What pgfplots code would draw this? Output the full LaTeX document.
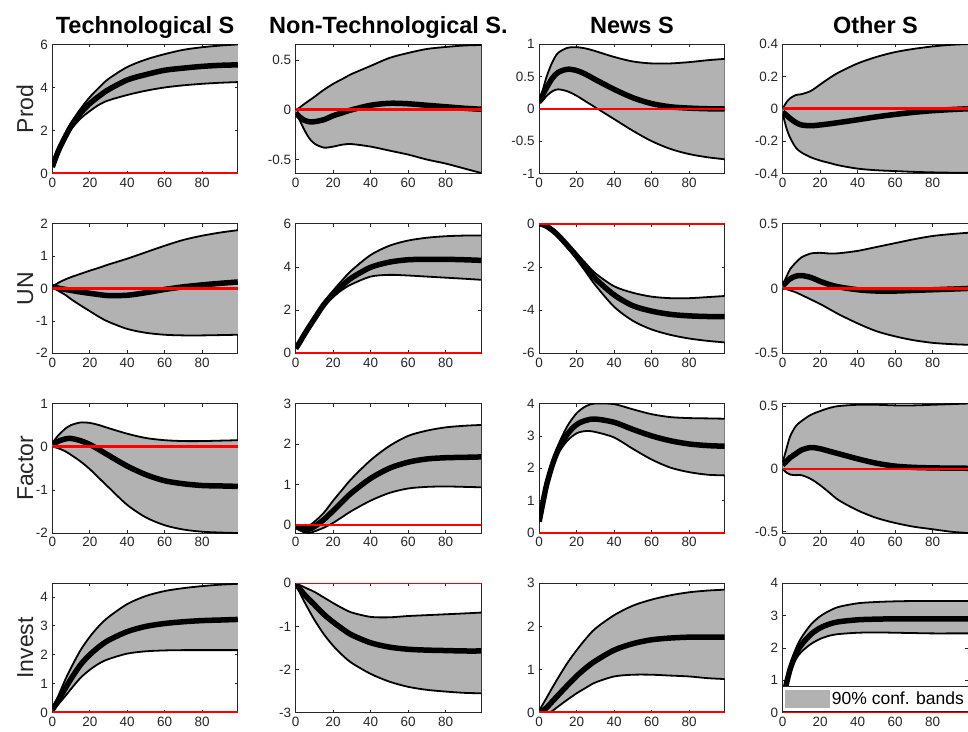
\documentclass[border=0pt]{standalone}
\usepackage{fontspec}
\setmainfont{Liberation Sans}
\usepackage{pgfplots}
\usepackage{pgfplotstable}
\pgfplotsset{compat=1.18}
\usepgfplotslibrary{fillbetween}
\definecolor{bandgray}{rgb}{0.7,0.7,0.7}
\definecolor{axc}{rgb}{0.15,0.15,0.15}

% ---------- Row 1: Prod ----------
\pgfplotstableread{
x lo me hi
0 0.3 0.3 0.3
2 0.75 0.78 0.8
4 1.15 1.2 1.25
7 1.65 1.72 1.8
10 2.05 2.2 2.35
15 2.55 2.8 3.0
20 2.9 3.25 3.55
25 3.2 3.6 4.0
30 3.4 3.9 4.4
40 3.65 4.35 4.95
50 3.85 4.6 5.3
60 4.0 4.8 5.55
70 4.1 4.9 5.75
80 4.17 4.98 5.87
90 4.22 5.03 5.95
99 4.25 5.05 6.0
}\dAA
\pgfplotstableread{
x lo me hi
0 -0.03 -0.03 0.0
2 -0.1 -0.07 0.02
4 -0.18 -0.1 0.05
7 -0.28 -0.12 0.09
10 -0.34 -0.12 0.13
15 -0.38 -0.1 0.2
20 -0.37 -0.06 0.26
25 -0.35 -0.03 0.31
30 -0.345 0.0 0.36
40 -0.37 0.045 0.44
50 -0.41 0.065 0.52
60 -0.45 0.06 0.57
70 -0.5 0.045 0.61
80 -0.54 0.03 0.63
90 -0.59 0.015 0.645
99 -0.635 0.005 0.65
}\dAB
\pgfplotstableread{
x lo me hi
0 0.08 0.1 0.12
2 0.13 0.22 0.3
4 0.2 0.33 0.5
7 0.27 0.47 0.72
10 0.3 0.56 0.86
15 0.27 0.61 0.94
20 0.2 0.59 0.95
25 0.11 0.53 0.93
30 0.02 0.45 0.89
40 -0.16 0.3 0.8
50 -0.34 0.17 0.73
60 -0.5 0.08 0.7
70 -0.62 0.03 0.7
80 -0.7 0.01 0.72
90 -0.75 0.0 0.75
99 -0.78 0.0 0.77
}\dAC
\pgfplotstableread{
x lo me hi
0 -0.03 -0.02 0.0
2 -0.12 -0.04 0.04
4 -0.18 -0.06 0.065
7 -0.24 -0.085 0.085
10 -0.27 -0.1 0.09
15 -0.3 -0.105 0.11
20 -0.32 -0.1 0.15
25 -0.335 -0.093 0.19
30 -0.35 -0.085 0.225
40 -0.37 -0.068 0.28
50 -0.38 -0.05 0.32
60 -0.385 -0.035 0.35
70 -0.39 -0.022 0.37
80 -0.393 -0.012 0.385
90 -0.395 -0.005 0.395
99 -0.395 0.0 0.4
}\dAD
% ---------- Row 2: UN ----------
\pgfplotstableread{
x lo me hi
0 0.03 0.05 0.07
2 -0.03 0.03 0.13
4 -0.1 0.0 0.2
7 -0.2 -0.03 0.28
10 -0.33 -0.06 0.35
15 -0.52 -0.11 0.45
20 -0.7 -0.15 0.55
25 -0.88 -0.19 0.64
30 -1.03 -0.22 0.74
40 -1.25 -0.21 0.92
50 -1.37 -0.13 1.12
60 -1.43 -0.03 1.32
70 -1.45 0.05 1.5
80 -1.45 0.11 1.63
90 -1.44 0.16 1.73
99 -1.43 0.2 1.8
}\dBA
\pgfplotstableread{
x lo me hi
0 0.2 0.22 0.24
2 0.45 0.48 0.5
4 0.75 0.78 0.8
7 1.15 1.2 1.25
10 1.55 1.6 1.67
15 2.15 2.25 2.35
20 2.6 2.75 2.9
25 2.95 3.15 3.4
30 3.2 3.5 3.85
40 3.55 3.98 4.55
50 3.63 4.22 4.98
60 3.6 4.33 5.22
70 3.55 4.35 5.35
80 3.5 4.35 5.42
90 3.45 4.33 5.45
99 3.4 4.3 5.45
}\dBB
\pgfplotstableread{
x lo me hi
0 0 0 0
2 -0.05 -0.04 -0.03
4 -0.15 -0.12 -0.1
7 -0.35 -0.3 -0.27
10 -0.6 -0.53 -0.48
15 -1.1 -1.0 -0.92
20 -1.65 -1.5 -1.38
25 -2.25 -2.05 -1.85
30 -2.85 -2.55 -2.3
40 -3.85 -3.3 -2.9
50 -4.5 -3.8 -3.2
60 -4.9 -4.05 -3.38
70 -5.15 -4.2 -3.45
80 -5.32 -4.27 -3.45
90 -5.43 -4.3 -3.4
99 -5.5 -4.3 -3.35
}\dBC
\pgfplotstableread{
x lo me hi
0 0.0 0.02 0.03
2 -0.005 0.05 0.09
4 -0.015 0.075 0.15
7 -0.03 0.095 0.2
10 -0.05 0.1 0.24
15 -0.085 0.085 0.27
20 -0.12 0.055 0.275
25 -0.16 0.03 0.27
30 -0.2 0.012 0.272
40 -0.27 -0.01 0.29
50 -0.33 -0.02 0.32
60 -0.37 -0.02 0.35
70 -0.4 -0.015 0.38
80 -0.42 -0.01 0.405
90 -0.43 -0.005 0.42
99 -0.435 0.0 0.43
}\dBD
% ---------- Row 3: Factor ----------
\pgfplotstableread{
x lo me hi
0 0.0 0.05 0.08
2 -0.02 0.1 0.2
4 -0.05 0.14 0.3
7 -0.11 0.18 0.42
10 -0.19 0.19 0.5
15 -0.34 0.14 0.56
20 -0.52 0.05 0.55
25 -0.73 -0.07 0.5
30 -0.94 -0.2 0.43
40 -1.35 -0.45 0.3
50 -1.64 -0.65 0.2
60 -1.82 -0.79 0.15
70 -1.92 -0.86 0.13
80 -1.97 -0.9 0.13
90 -1.99 -0.91 0.14
99 -2.0 -0.92 0.15
}\dCA
\pgfplotstableread{
x lo me hi
0 -0.05 -0.03 0.0
2 -0.12 -0.08 -0.03
4 -0.17 -0.12 -0.05
7 -0.2 -0.11 -0.02
10 -0.16 -0.04 0.08
15 -0.07 0.13 0.3
20 0.05 0.35 0.6
25 0.2 0.58 0.88
30 0.35 0.8 1.15
40 0.6 1.15 1.6
50 0.79 1.4 1.95
60 0.9 1.55 2.2
70 0.94 1.63 2.33
80 0.95 1.66 2.41
90 0.94 1.67 2.45
99 0.93 1.68 2.47
}\dCB
\pgfplotstableread{
x lo me hi
0 0.35 0.35 0.35
2 0.9 0.95 1.0
4 1.4 1.5 1.55
7 2.0 2.1 2.2
10 2.45 2.55 2.7
15 2.85 3.05 3.3
20 3.08 3.35 3.7
25 3.15 3.48 3.92
30 3.12 3.52 4.0
40 2.95 3.42 3.98
50 2.6 3.2 3.82
60 2.27 3.0 3.67
70 2.02 2.85 3.58
80 1.88 2.75 3.55
90 1.8 2.7 3.54
99 1.78 2.68 3.53
}\dCC
\pgfplotstableread{
x lo me hi
0 0.0 0.03 0.05
2 -0.03 0.06 0.16
4 -0.045 0.09 0.26
7 -0.05 0.12 0.34
10 -0.05 0.15 0.38
15 -0.08 0.17 0.43
20 -0.13 0.16 0.46
25 -0.19 0.14 0.485
30 -0.25 0.12 0.5
40 -0.33 0.08 0.51
50 -0.39 0.045 0.51
60 -0.43 0.022 0.505
70 -0.46 0.012 0.505
80 -0.48 0.008 0.51
90 -0.5 0.006 0.515
99 -0.51 0.005 0.52
}\dCD
% ---------- Row 4: Invest ----------
\pgfplotstableread{
x lo me hi
0 0.05 0.1 0.12
2 0.2 0.3 0.4
4 0.35 0.52 0.7
7 0.58 0.85 1.15
10 0.82 1.17 1.55
15 1.2 1.65 2.15
20 1.48 2.0 2.62
25 1.7 2.28 3.0
30 1.85 2.5 3.3
40 2.04 2.8 3.75
50 2.12 2.98 4.03
60 2.15 3.08 4.2
70 2.16 3.14 4.3
80 2.16 3.18 4.37
90 2.16 3.2 4.42
99 2.16 3.22 4.45
}\dDA
\pgfplotstableread{
x lo me hi
0 0 0 0
2 -0.2 -0.12 -0.04
4 -0.38 -0.23 -0.08
7 -0.62 -0.37 -0.14
10 -0.85 -0.5 -0.2
15 -1.18 -0.72 -0.33
20 -1.45 -0.9 -0.46
25 -1.67 -1.06 -0.58
30 -1.85 -1.2 -0.68
40 -2.1 -1.38 -0.78
50 -2.28 -1.48 -0.79
60 -2.4 -1.53 -0.76
70 -2.47 -1.55 -0.74
80 -2.51 -1.56 -0.72
90 -2.54 -1.57 -0.7
99 -2.55 -1.57 -0.68
}\dDB
\pgfplotstableread{
x lo me hi
0 -0.02 0.0 0.05
2 -0.03 0.05 0.2
4 -0.03 0.12 0.35
7 0.04 0.26 0.58
10 0.14 0.4 0.8
15 0.3 0.63 1.15
20 0.45 0.85 1.45
25 0.58 1.04 1.72
30 0.7 1.2 1.95
40 0.84 1.45 2.26
50 0.88 1.6 2.48
60 0.88 1.69 2.62
70 0.86 1.73 2.72
80 0.84 1.75 2.79
90 0.8 1.75 2.83
99 0.78 1.75 2.85
}\dDC
\pgfplotstableread{
x lo me hi
0 0.3 0.35 0.4
2 0.8 0.9 0.95
4 1.25 1.35 1.45
7 1.65 1.82 1.98
10 1.88 2.1 2.32
15 2.12 2.42 2.72
20 2.28 2.62 2.98
25 2.38 2.74 3.15
30 2.43 2.81 3.27
40 2.47 2.87 3.38
50 2.48 2.89 3.42
60 2.47 2.9 3.44
70 2.46 2.9 3.45
80 2.45 2.9 3.45
90 2.45 2.9 3.45
99 2.45 2.9 3.45
}\dDD

\pgfplotsset{
  irf/.style={
    scale only axis, width=185.5pt, height=129.5pt,
    anchor=north west,
    xmin=0, xmax=99, xtick={0,20,40,60,80},
    axis line style={draw=axc, line width=0.6pt},
    every tick/.style={draw=axc, line width=0.6pt},
    major tick length=3pt,
    tick align=inside,
    tick label style={font=\fontsize{13.5}{14}\selectfont, text=axc},
    /pgf/number format/assume math mode=true,
    scaled y ticks=false,
    yticklabel style={/pgf/number format/fixed, xshift=-1pt},
    xticklabel style={yshift=-1pt},
    every axis title/.style={at={(0.5,1)}, anchor=base, yshift=11pt,
      font=\fontsize{23.5}{26}\selectfont\bfseries},
    every axis y label/.style={at={(axis description cs:-0.104,0.5)},
      rotate=90, anchor=base, font=\fontsize{23}{26}\selectfont, text=axc},
  }
}

\newcommand\panel[2]{%
  \addplot[draw=none, smooth, name path=lo#2] table[x=x,y=lo]{#1};
  \addplot[draw=none, smooth, name path=hi#2] table[x=x,y=hi]{#1};
  \addplot[bandgray, draw=none] fill between[of=lo#2 and hi#2];
  \addplot[black, line width=1.8pt, smooth] table[x=x,y=lo]{#1};
  \addplot[black, line width=1.8pt, smooth] table[x=x,y=hi]{#1};
  \addplot[black, line width=5.5pt, smooth] table[x=x,y=me]{#1};
  \addplot[red, line width=2.5pt] coordinates {(0,0) (99,0)};
}

\begin{document}
\begin{tikzpicture}
% Row 1
\begin{axis}[irf, at={(52.3pt,-44pt)}, ymin=0, ymax=6.02, ytick={0,2,4,6},
  title={Technological S}, ylabel={Prod}]
\panel{\dAA}{aa}
\end{axis}
\begin{axis}[irf, at={(295.7pt,-44pt)}, ymin=-0.64, ymax=0.66, ytick={-0.5,0,0.5},
  title={Non-Technological S.}]
\panel{\dAB}{ab}
\end{axis}
\begin{axis}[irf, at={(539.2pt,-44pt)}, ymin=-1, ymax=1, ytick={-1,-0.5,0,0.5,1},
  title={News S}]
\panel{\dAC}{ac}
\end{axis}
\begin{axis}[irf, at={(782.7pt,-44pt)}, ymin=-0.4, ymax=0.4, ytick={-0.4,-0.2,0,0.2,0.4},
  title={Other S}]
\panel{\dAD}{ad}
\end{axis}
% Row 2
\begin{axis}[irf, at={(52.3pt,-223.7pt)}, ymin=-2, ymax=2, ytick={-2,-1,0,1,2},
  ylabel={UN}]
\panel{\dBA}{ba}
\end{axis}
\begin{axis}[irf, at={(295.7pt,-223.7pt)}, ymin=0, ymax=6, ytick={0,2,4,6}]
\panel{\dBB}{bb}
\end{axis}
\begin{axis}[irf, at={(539.2pt,-223.7pt)}, ymin=-6, ymax=0, ytick={-6,-4,-2,0}]
\panel{\dBC}{bc}
\end{axis}
\begin{axis}[irf, at={(782.7pt,-223.7pt)}, ymin=-0.5, ymax=0.5, ytick={-0.5,0,0.5}]
\panel{\dBD}{bd}
\end{axis}
% Row 3
\begin{axis}[irf, at={(52.3pt,-403.5pt)}, ymin=-2, ymax=1, ytick={-2,-1,0,1},
  ylabel={Factor}]
\panel{\dCA}{ca}
\end{axis}
\begin{axis}[irf, at={(295.7pt,-403.5pt)}, ymin=-0.2, ymax=3, ytick={0,1,2,3}]
\panel{\dCB}{cb}
\end{axis}
\begin{axis}[irf, at={(539.2pt,-403.5pt)}, ymin=0, ymax=4, ytick={0,1,2,3,4}]
\panel{\dCC}{cc}
\end{axis}
\begin{axis}[irf, at={(782.7pt,-403.5pt)}, ymin=-0.51, ymax=0.52, ytick={-0.5,0,0.5}]
\panel{\dCD}{cd}
\end{axis}
% Row 4
\begin{axis}[irf, at={(52.3pt,-583.2pt)}, ymin=0, ymax=4.47, ytick={0,1,2,3,4},
  ylabel={Invest}]
\panel{\dDA}{da}
\end{axis}
\begin{axis}[irf, at={(295.7pt,-583.2pt)}, ymin=-3, ymax=0, ytick={-3,-2,-1,0}]
\panel{\dDB}{db}
\end{axis}
\begin{axis}[irf, at={(539.2pt,-583.2pt)}, ymin=0, ymax=3, ytick={0,1,2,3}]
\panel{\dDC}{dc}
\end{axis}
\begin{axis}[irf, at={(782.7pt,-583.2pt)}, ymin=0, ymax=4, ytick={0,1,2,3,4},
  legend style={at={(rel axis cs:0,0)}, anchor=south west, xshift=-0.7pt, yshift=1.5pt,
    draw=axc, line width=0.6pt, fill=white,
    font=\fontsize{17.5}{18}\selectfont, inner xsep=3pt, inner ysep=3pt,
    legend cell align=left}]
\addlegendimage{legend image code/.code={\fill[bandgray] (0pt,-8.5pt) rectangle (44pt,8.5pt);}}
\addlegendentry{90\% conf. bands\hspace{10pt}}
\panel{\dDD}{dd}
\end{axis}
\pgfresetboundingbox
\path[use as bounding box] (0,0) rectangle (968pt,-731pt);
\end{tikzpicture}
\end{document}
